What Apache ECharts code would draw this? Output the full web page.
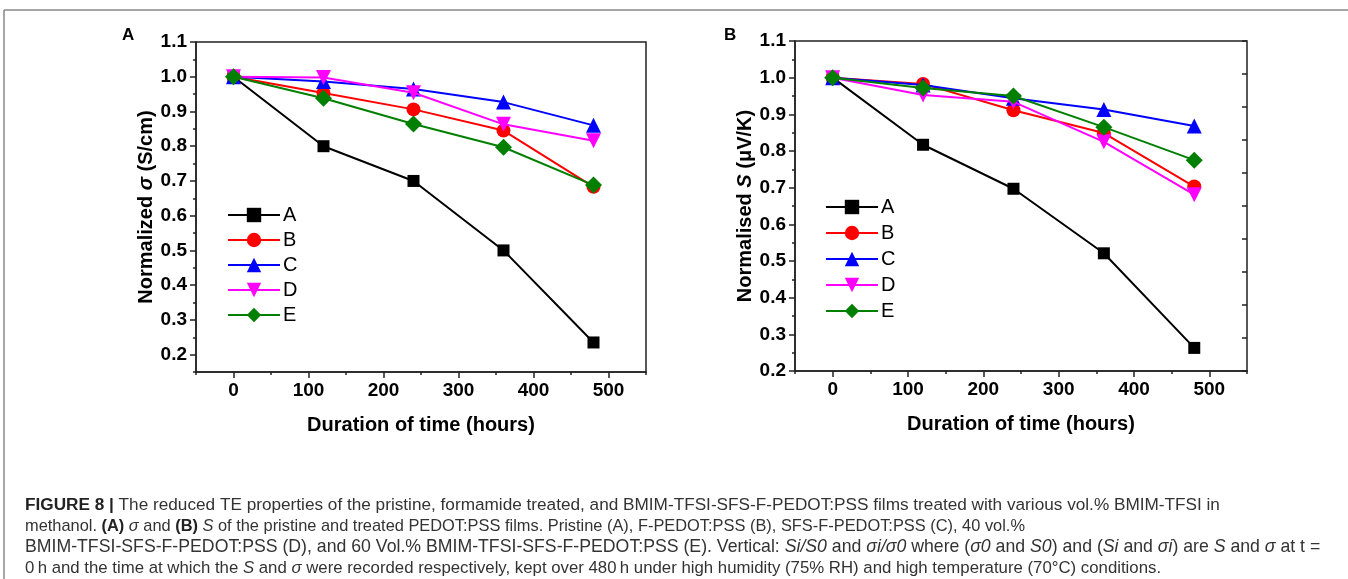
<!DOCTYPE html>
<html>
<head>
<meta charset="utf-8">
<script src="https://cdn.jsdelivr.net/npm/echarts@6/dist/echarts.min.js"></script>
<style>
html,body{margin:0;padding:0;background:#fff;}
#chart{width:1348px;height:579px;}
</style>
</head>
<body>
<div id="chart"></div>
<script>
// ---- data ----
const hours = [0, 120, 240, 360, 480];
const seriesNames = ['A', 'B', 'C', 'D', 'E'];
// Panel A: normalized conductivity
const sigmaA = [1.0, 0.80, 0.70, 0.50, 0.235];
const sigmaB = [1.0, 0.953, 0.906, 0.845, 0.683];
const sigmaC = [1.0, 0.986, 0.965, 0.927, 0.860];
const sigmaD = [1.0, 0.998, 0.954, 0.863, 0.816];
const sigmaE = [1.0, 0.938, 0.864, 0.797, 0.688];
// Panel B: normalised Seebeck coefficient
const seebA = [1.0, 0.817, 0.697, 0.521, 0.263];
const seebB = [1.0, 0.983, 0.911, 0.849, 0.703];
const seebC = [1.0, 0.980, 0.944, 0.913, 0.868];
const seebD = [1.0, 0.953, 0.934, 0.825, 0.681];
const seebE = [1.0, 0.972, 0.950, 0.865, 0.775];
// tick labels
const xTickLabels = [0, 100, 200, 300, 400, 500];
const xMinorTicks = [-50, 50, 150, 250, 350, 450, 550];
const yTickLabelsA = [0.2, 0.3, 0.4, 0.5, 0.6, 0.7, 0.8, 0.9, 1.0, 1.1];
const yMinorTicksA = [0.15, 0.25, 0.35, 0.45, 0.55, 0.65, 0.75, 0.85, 0.95, 1.05];
const yTickLabelsB = [0.2, 0.3, 0.4, 0.5, 0.6, 0.7, 0.8, 0.9, 1.0, 1.1];
const yMinorTicksB = [0.25, 0.35, 0.45, 0.55, 0.65, 0.75, 0.85, 0.95, 1.05];

// ---- styles ----
const FONT = 'Liberation Sans, Arial, sans-serif';
const colors = ['#000000', '#ff0000', '#0000ff', '#ff00ff', '#007f00'];
const symbols = ['rect', 'circle', 'triangle', 'path://M0,0 L10,0 L5,9 Z', 'diamond'];
const sizes = [12, 14, 15, 15, 17];
const axisColor = '#222';

function mkSeries(vals, idx, gi) {
  return {
    type: 'line',
    name: seriesNames[idx],
    xAxisIndex: gi * 2,
    yAxisIndex: gi === 0 ? 0 : 2,
    data: hours.map((h, i) => [h, vals[i]]),
    symbol: symbols[idx],
    symbolSize: sizes[idx],
    showAllSymbol: true,
    lineStyle: { color: colors[idx], width: 2 },
    itemStyle: { color: colors[idx] },
    emphasis: { disabled: true },
    animation: false,
    z: 2 + idx
  };
}

function xMain(gi) {
  return {
    type: 'value', gridIndex: gi, position: 'bottom', min: -50, max: 550, interval: 50,
    axisLine: { show: true, onZero: false, lineStyle: { color: axisColor, width: 1.5 } },
    axisTick: { show: true, customValues: xTickLabels, length: 6, lineStyle: { color: axisColor, width: 1.5 } },
    axisLabel: { customValues: xTickLabels, margin: 9, color: '#000', fontFamily: FONT, fontWeight: 'bold', fontSize: 19 },
    splitLine: { show: false },
    name: 'Duration of time (hours)', nameLocation: 'middle', nameGap: 43,
    nameTextStyle: { color: '#000', fontFamily: FONT, fontWeight: 'bold', fontSize: 20 }
  };
}
function xMinor(gi) {
  return {
    type: 'value', gridIndex: gi, position: 'bottom', min: -50, max: 550, interval: 50,
    axisLine: { show: false, onZero: false },
    axisTick: { show: true, customValues: xMinorTicks, length: 3, lineStyle: { color: axisColor, width: 1.5 } },
    axisLabel: { show: false }, splitLine: { show: false }
  };
}
function yMain(gi, min, labels, name, rich, gap) {
  return {
    type: 'value', gridIndex: gi, position: 'left', min: min, max: 1.1, interval: 0.05,
    axisLine: { show: true, onZero: false, lineStyle: { color: axisColor, width: 1.5 } },
    axisTick: { show: true, customValues: labels, length: 6, lineStyle: { color: axisColor, width: 1.5 } },
    axisLabel: { customValues: labels, margin: 9, color: '#000', fontFamily: FONT, fontWeight: 'bold', fontSize: 19,
      formatter: v => v.toFixed(1) },
    splitLine: { show: false },
    name: name, nameLocation: 'middle', nameGap: gap,
    nameTextStyle: { color: '#000', fontFamily: FONT, fontWeight: 'bold', fontSize: 20, rich: rich }
  };
}
function yMinor(gi, min, ticks) {
  return {
    type: 'value', gridIndex: gi, position: 'left', min: min, max: 1.1, interval: 0.05,
    axisLine: { show: false, onZero: false },
    axisTick: { show: true, customValues: ticks, length: 3, lineStyle: { color: axisColor, width: 1.5 } },
    axisLabel: { show: false }, splitLine: { show: false }
  };
}

const richName = {
  i: { fontStyle: 'italic', fontWeight: 'bold', fontFamily: FONT, fontSize: 20, color: '#000' }
};

function legendFor(left, top, gap) {
  return {
    left: left, top: top, orient: 'vertical', itemWidth: 52, itemHeight: 18, itemGap: gap,
    selectedMode: false,
    data: seriesNames,
    textStyle: { fontFamily: FONT, fontSize: 20, color: '#000', padding: [0, 0, 0, -2] }
  };
}

function capRich(size) {
  return {
    b: { fontFamily: FONT, fontSize: size, fontWeight: 'bold', fill: '#222' },
    i: { fontFamily: FONT, fontSize: size, fontStyle: 'italic', fill: '#333' }
  };
}
const captionLines = [
  '{b|FIGURE 8 |} The reduced TE properties of the pristine, formamide treated, and BMIM-TFSI-SFS-F-PEDOT:PSS films treated with various vol.% BMIM-TFSI in',
  'methanol. {b|(A)} {i|σ} and {b|(B)} {i|S} of the pristine and treated PEDOT:PSS films. Pristine (A), F-PEDOT:PSS (B), SFS-F-PEDOT:PSS (C), 40 vol.%',
  'BMIM-TFSI-SFS-F-PEDOT:PSS (D), and 60 Vol.% BMIM-TFSI-SFS-F-PEDOT:PSS (E). Vertical: {i|Si/S0} and {i|σi/σ0} where ({i|σ0} and {i|S0}) and ({i|Si} and {i|σi}) are {i|S} and {i|σ} at t =',
  '0\u2009h and the time at which the {i|S} and {i|σ} were recorded respectively, kept over 480\u2009h under high humidity (75% RH) and high temperature (70°C) conditions.'
];
const captionY = [505, 526, 547, 568];
const captionSize = [17.2, 16.4, 17.7, 16.8];

const graphics = [
  { type: 'line', shape: { x1: 4, y1: 10, x2: 1348, y2: 10 }, style: { stroke: '#888', lineWidth: 1.5 }, silent: true },
  { type: 'line', shape: { x1: 4, y1: 10, x2: 4, y2: 579 }, style: { stroke: '#888', lineWidth: 1.5 }, silent: true },
  { type: 'text', left: 122, top: 27, style: { text: 'A', font: 'bold 17px ' + FONT, fill: '#000' }, silent: true },
  { type: 'text', left: 724, top: 27, style: { text: 'B', font: 'bold 17px ' + FONT, fill: '#000' }, silent: true }
];
captionLines.forEach((t, k) => {
  graphics.push({
    type: 'text', x: 25, y: captionY[k], silent: true,
    style: { text: t, fontFamily: FONT, fontSize: captionSize[k], fill: '#333', verticalAlign: 'middle', rich: capRich(captionSize[k]) }
  });
});

const option = {
  backgroundColor: '#fff',
  animation: false,
  grid: [
    { left: 196, top: 42, width: 450, height: 330, show: true, borderColor: axisColor, borderWidth: 1.5, backgroundColor: 'transparent' },
    { left: 795, top: 41, width: 452, height: 330, show: true, borderColor: axisColor, borderWidth: 1.5, backgroundColor: 'transparent' }
  ],
  xAxis: [xMain(0), xMinor(0), xMain(1), xMinor(1)],
  yAxis: [
    yMain(0, 0.15, yTickLabelsA, 'Normalized {i|σ} (S/cm)', richName, 33),
    yMinor(0, 0.15, yMinorTicksA),
    yMain(1, 0.2, yTickLabelsB, 'Normalised {i|S} (μV/K)', richName, 32),
    yMinor(1, 0.2, yMinorTicksB),
    { type: 'value', gridIndex: 1, position: 'right', min: 0, max: 10, interval: 1,
      axisLine: { show: false, onZero: false }, axisLabel: { show: false }, splitLine: { show: false },
      axisTick: { show: true, inside: true, length: 5, lineStyle: { color: axisColor, width: 1.5 } } }
  ],
  legend: [legendFor(222, 200, 5), legendFor(820, 192, 6)],
  series: [
    mkSeries(sigmaA, 0, 0), mkSeries(sigmaB, 1, 0), mkSeries(sigmaC, 2, 0), mkSeries(sigmaD, 3, 0), mkSeries(sigmaE, 4, 0),
    mkSeries(seebA, 0, 1), mkSeries(seebB, 1, 1), mkSeries(seebC, 2, 1), mkSeries(seebD, 3, 1), mkSeries(seebE, 4, 1)
  ],
  graphic: graphics
};

const chart = echarts.init(document.getElementById('chart'), null, { renderer: 'canvas' });
chart.setOption(option);
</script>
</body>
</html>
